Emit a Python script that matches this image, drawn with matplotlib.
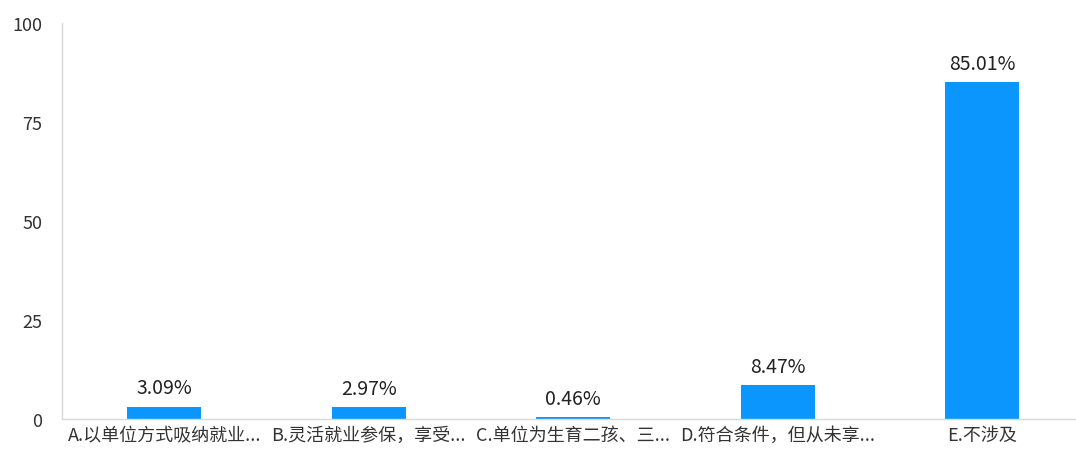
import matplotlib
matplotlib.use("Agg")
import matplotlib.pyplot as plt

plt.rcParams['font.family'] = ['Noto Sans CJK SC', 'DejaVu Sans']

categories = ["A.以单位方式吸纳就业...", "B.灵活就业参保，享受...", "C.单位为生育二孩、三...",
              "D.符合条件，但从未享...", "E.不涉及"]
values = [3.09, 2.97, 0.46, 8.47, 85.01]
yticks = [0, 25, 50, 75, 100]

fig = plt.figure(figsize=(10.76, 4.52), dpi=100)
ax = fig.add_axes([62/1076, 32/452, 1014/1076, 396/452])

x = list(range(len(categories)))
bars = ax.bar(x, values, width=0.36, color='#0a96fc', zorder=2)
for xi, v in zip(x, values):
    ax.annotate(f"{v:.2f}%", (xi, v), xytext=(0, 6), textcoords='offset points',
                ha='center', va='bottom', fontsize=14, color='#222222')

ax.set_xlim(-0.5, -0.5 + 1014/204.5)
ax.set_ylim(0, 100)
ax.set_yticks(yticks)
ax.set_xticks(x)
ax.set_xticklabels(categories, fontsize=13)
ax.tick_params(axis='both', length=0, colors='#333333')
ax.tick_params(axis='y', pad=14, labelsize=13)
ax.tick_params(axis='x', pad=5)
for side in ['top', 'right']:
    ax.spines[side].set_visible(False)
for side in ['left', 'bottom']:
    ax.spines[side].set_color('#d9d9d9')
    ax.spines[side].set_linewidth(1)

plt.savefig("out.png", dpi=100)
